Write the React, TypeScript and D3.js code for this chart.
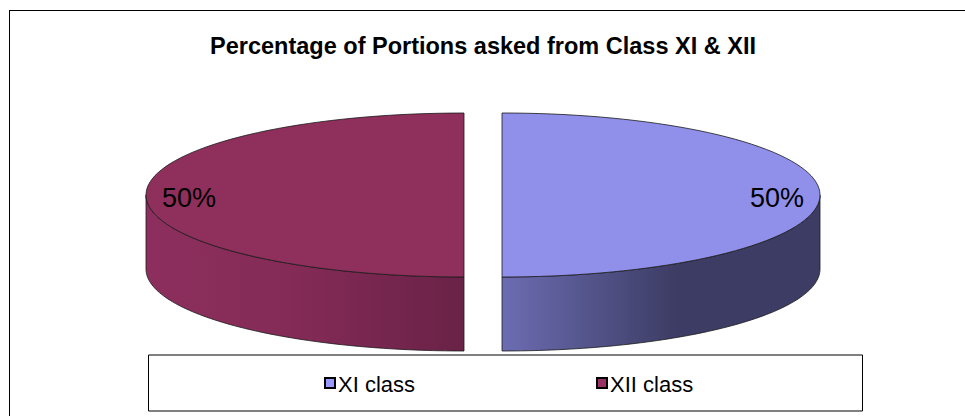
import React from "react";
import * as d3 from "d3";

const categories: string[] = ["XI class", "XII class"];
const values: number[] = [50, 50];
const labels: string[] = ["50%", "50%"];
const title = "Percentage of Portions asked from Class XI & XII";

const topColors = ["#9090EB", "#8F2F5C"];
const sideLight = ["#6C6CB2", "#8D2F5E"];
const sideDark = ["#3C3C64", "#6A2247"];
const legendColors = ["#9999FF", "#993366"];

const W = 965;
const H = 416;
const CX = 483;
const CY = 195;
const RX = 318;
const RY = 82;
const DEPTH = 74;
const EXPLODE = 19;

function pt(cx: number, cy: number, a: number, dy = 0): [number, number] {
  return [cx + RX * Math.sin(a), cy - RY * Math.cos(a) + dy];
}

export default function App() {
  const pie = d3.pie<number>().sort(null).value((d) => d);
  const arcs = pie(values);
  const line = d3.line<[number, number]>();
  const fmt = d3.format(".0%");
  const total = d3.sum(values);

  const slices = arcs.map((a, i) => {
    const mid = (a.startAngle + a.endAngle) / 2;
    const cx = CX + EXPLODE * Math.sin(mid);
    const cy = CY - EXPLODE * (RY / RX) * Math.cos(mid);
    const steps = 80;
    const angs = d3.range(steps + 1).map((k) => a.startAngle + ((a.endAngle - a.startAngle) * k) / steps);
    const topPts: [number, number][] = [[cx, cy], ...angs.map((t) => pt(cx, cy, t))];
    const topPath = line(topPts) + "Z";
    const s0 = Math.max(a.startAngle, Math.PI / 2);
    const s1 = Math.min(a.endAngle, (3 * Math.PI) / 2);
    let sidePath = "";
    if (s1 > s0) {
      const sa = d3.range(steps + 1).map((k) => s0 + ((s1 - s0) * k) / steps);
      const upper = sa.map((t) => pt(cx, cy, t));
      const lower = sa.slice().reverse().map((t) => pt(cx, cy, t, DEPTH));
      sidePath = line([...upper, ...lower]) + "Z";
    }
    const xs = [pt(cx, cy, s0)[0], pt(cx, cy, s1)[0]];
    const labelX = cx + RX * 0.865 * Math.sin(mid);
    const labelY = cy + 12;
    return { i, topPath, sidePath, x0: Math.min(...xs), x1: Math.max(...xs), labelX, labelY, pct: fmt(a.data / total) };
  });

  const legendX = [325, 597];

  return (
    <svg width={W} height={H} style={{ position: "absolute", left: 0, top: 0, display: "block" }} fontFamily="'Liberation Sans', Arial, sans-serif">
      <defs>
        {slices.map((s) => (
          <linearGradient key={s.i} id={`side${s.i}`} gradientUnits="userSpaceOnUse" x1={s.x0} x2={s.x1} y1={0} y2={0}>
            <stop offset="0" stopColor={s.i === 0 ? sideLight[0] : sideLight[1]} />
            <stop offset={s.i === 0 ? "0.55" : "0.45"} stopColor={s.i === 0 ? sideDark[0] : "#842B57"} />
            <stop offset="1" stopColor={s.i === 0 ? sideDark[0] : sideDark[1]} />
          </linearGradient>
        ))}
      </defs>
      <rect x={0} y={0} width={W} height={H} fill="#fff" />
      <rect x={9.5} y={10.5} width={W + 10} height={H + 10} fill="none" stroke="#000" strokeWidth={1} />
      <text x={483} y={54} textAnchor="middle" fontWeight="bold" fontSize={23.5} fill="#000">{title}</text>
      {slices.map((s) => (
        <g key={s.i}>
          {s.sidePath && <path d={s.sidePath} fill={`url(#side${s.i})`} stroke="#1a1a1a" strokeWidth={0.8} />}
          <path d={s.topPath} fill={topColors[s.i]} stroke="#1a1a1a" strokeWidth={0.8} />
        </g>
      ))}
      {slices.map((s) => (
        <text key={"l" + s.i} x={s.labelX} y={s.labelY} textAnchor="middle" fontSize={27} fill="#000">{labels[s.i] ?? s.pct}</text>
      ))}
      <rect x={148.5} y={355.5} width={714} height={55} fill="#fff" stroke="none" />
      <line x1={148.5} x2={862.5} y1={355} y2={355} stroke="#808080" strokeWidth={2} />
      <line x1={148.5} x2={862.5} y1={411} y2={411} stroke="#808080" strokeWidth={2} />
      <line x1={148.5} x2={148.5} y1={355} y2={411} stroke="#000" strokeWidth={1} />
      <line x1={862.5} x2={862.5} y1={355} y2={411} stroke="#000" strokeWidth={1} />
      {categories.map((c, i) => (
        <g key={c}>
          <rect x={legendX[i]} y={378} width={10} height={10} fill={legendColors[i]} stroke="#000" strokeWidth={2} />
          <text x={legendX[i] + 13} y={392} fontSize={22} fill="#000">{c}</text>
        </g>
      ))}
    </svg>
  );
}
